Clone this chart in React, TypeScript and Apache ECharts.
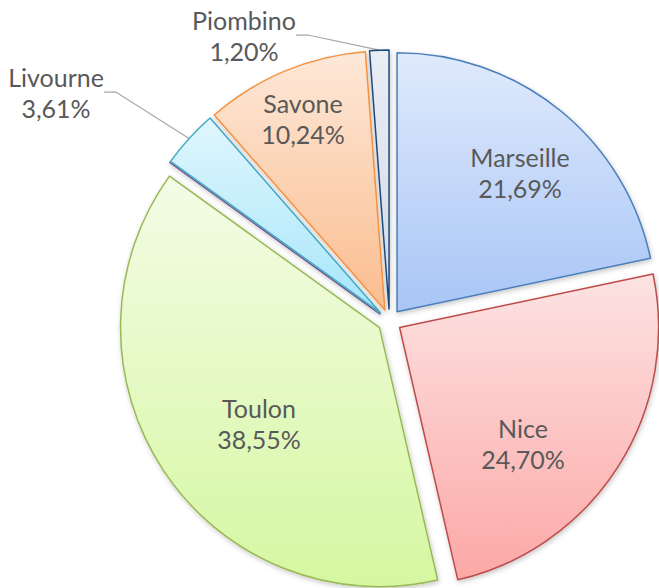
import React, { useEffect, useRef } from "react";
import * as echarts from "echarts";

// Data (clockwise from 12 o'clock)
const ports = ["Marseille", "Nice", "Toulon", " ", "Livourne", "Savone", "Piombino", "  "];
const shares = [21.69, 24.7, 38.55, 0, 3.61, 10.24, 1.2, 0];

// Styles
const borderColors = ["#4a7ebb", "#be4b48", "#98b954", "#7d60a0", "#46aac5", "#f69240", "#1f497d", "#8c2b28"];
const topColors = ["#e0eafc", "#fde3e3", "#f3fce6", "#e6e0ef", "#e0f6fd", "#fde8d8", "#e9edf4", "#f2dcdb"];
const bottomColors = ["#a8c5f6", "#fba8a6", "#d6f7a1", "#c9bcdb", "#a6e6fa", "#fbbd8f", "#d3dae6", "#e6b9b8"];
const outsideLabels = ["Livourne", "Piombino"];
// label layout: [x, y of anchor, top padding that pushes the text down]
const labelAnchors: ([number, number, number] | null)[] = [
  [520, 172, 0],
  [523, 443, 0],
  [259, 423, 0],
  null,
  [56, 92, 10],
  [303, 118, 0],
  [244, 35, 18],
  null,
];

const CENTER: [number, number] = [389.5, 321];
const RADIUS = 259;
const EXPLODE = 12;

export default function App() {
  const ref = useRef<HTMLDivElement>(null);
  useEffect(() => {
    document.body.style.margin = "0";
    const chart = echarts.init(ref.current!, null, { renderer: "svg" });
    const sliceData = ports.map((name, i) => {
      const fill = new echarts.graphic.LinearGradient(0, 0, 0, 1, [
        { offset: 0, color: topColors[i] },
        { offset: 1, color: bottomColors[i] },
      ]);
      const itemStyle = {
        color: fill,
        borderColor: borderColors[i],
        borderWidth: 1.5,
        shadowBlur: 5,
        shadowColor: "rgba(0,0,0,0.22)",
        shadowOffsetX: 1,
        shadowOffsetY: 2,
      };
      return { name, value: shares[i], selected: true, itemStyle, select: { itemStyle } };
    });
    const labelData = ports.map((name, i) => {
      const isZero = shares[i] === 0;
      const outside = outsideLabels.includes(name);
      const a = labelAnchors[i];
      return {
        name,
        value: shares[i],
        itemStyle: { color: "rgba(0,0,0,0)", borderWidth: 0 },
        label: isZero
          ? { show: false }
          : {
              show: true,
              position: outside ? "outside" : "inside",
              padding: [a ? a[2] : 0, 0, 0, 0],
            },
        labelLine: {
          show: outside && !isZero,
          length: 6,
          length2: 12,
          lineStyle: { color: "#a6a6a6", width: 1.25 },
        },
      };
    });
    chart.setOption({
      animation: false,
      backgroundColor: "#ffffff",
      series: [
        {
          type: "pie",
          center: CENTER,
          radius: RADIUS,
          startAngle: 90,
          clockwise: true,
          selectedMode: "multiple",
          selectedOffset: EXPLODE,
          avoidLabelOverlap: false,
          emphasis: { disabled: true },
          label: { show: false },
          labelLine: { show: false },
          data: sliceData,
        },
        {
          type: "pie",
          center: CENTER,
          radius: RADIUS + EXPLODE,
          startAngle: 90,
          clockwise: true,
          silent: true,
          selectedMode: false,
          avoidLabelOverlap: false,
          emphasis: { disabled: true },
          label: {
            color: "#595959",
            fontFamily: "Lato",
            fontSize: 25,
            lineHeight: 31,
            align: "center",
            formatter: (p: any) => `${p.name}\n${p.value.toFixed(2).replace(".", ",")}%`,
          },
          labelLayout: (params: any) => {
            const a = labelAnchors[params.dataIndex];
            if (!a) return {};
            return { x: a[0], y: a[1], align: "center", verticalAlign: "middle" };
          },
          data: labelData,
        },
      ],
    });
    return () => chart.dispose();
  }, []);
  return (
    <div
      ref={ref}
      style={{ position: "absolute", left: 0, top: 0, width: 659, height: 588 }}
    />
  );
}
